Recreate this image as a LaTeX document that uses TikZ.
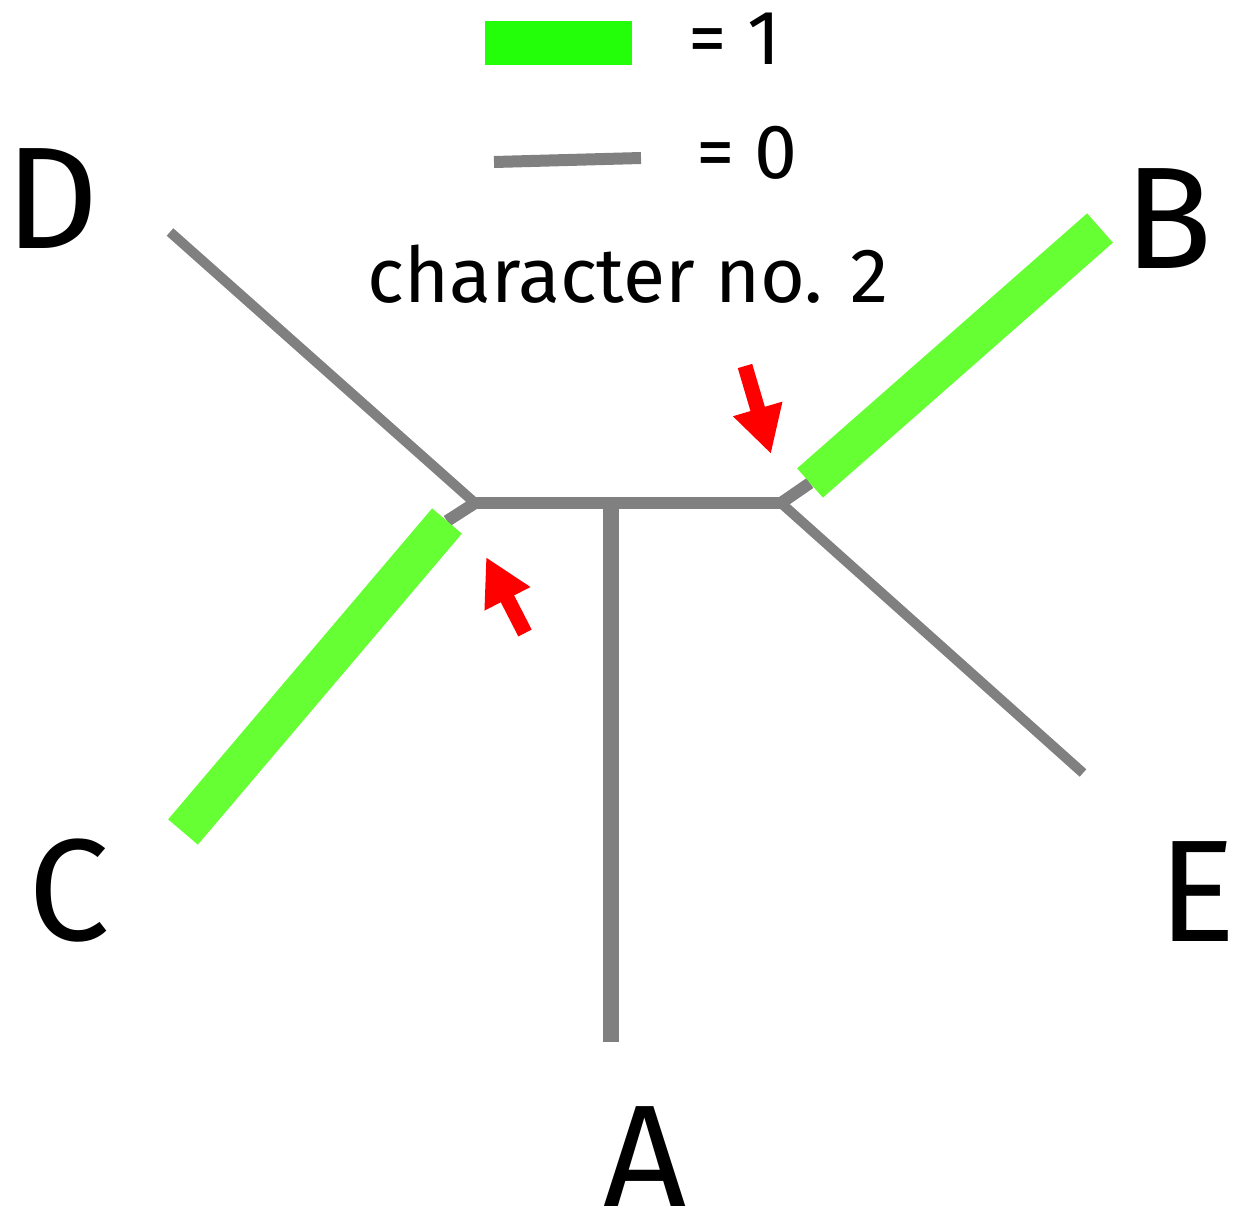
\documentclass[tikz,border=0pt]{standalone}
\usepackage{fontspec}
\setmainfont{Fira Sans}
\usetikzlibrary{arrows.meta}
\definecolor{brgray}{HTML}{808080}
\definecolor{brgreen}{HTML}{66FF33}
\definecolor{leggreen}{HTML}{22FF08}
\definecolor{arred}{HTML}{FF0000}
\tikzset{
  zerobr/.style={draw=brgray, line width=10pt, line cap=butt},
  stubbr/.style={draw=brgray, line width=12pt, line cap=butt},
  onebr/.style={draw=brgreen, line width=39pt, line cap=butt},
  bigletter/.style={inner sep=0pt, font=\fontsize{145}{150}\selectfont},
  midtext/.style={inner sep=0pt, font=\fontsize{77}{90}\selectfont},
  redarrow/.style={draw=arred, line width=15pt, line cap=butt,
    -{Triangle[length=47pt,width=48pt]}},
}
\begin{document}
\begin{tikzpicture}[x=1pt,y=-1pt]
\useasboundingbox (0,0) rectangle (1240,1224);
% junctions and ends
\coordinate (jl) at (475,503);
\coordinate (jr) at (781,503);
\coordinate (dend) at (170,232);
\coordinate (eend) at (1083,773);
\coordinate (aend) at (611,1042);
\coordinate (atop) at (611,497);
\coordinate (cstub) at (447,521);
\coordinate (cend) at (183,832);
\coordinate (bstub) at (810,483);
\coordinate (bend) at (1100,228);
% labels
\node[bigletter] (D) at (52,199) {D};
\node[bigletter] (B) at (1169,219) {B};
\node[bigletter] (C) at (69,891) {C};
\node[bigletter] (E) at (1197,892) {E};
\node[bigletter] (A) at (645,1157) {A};
\node[midtext, anchor=base] (title) at (628,302) {character no. 2};
% legend
\node[draw=none, fill=leggreen, minimum width=147pt, minimum height=44pt, inner sep=0pt] (leg1) at (558.5,43) {};
\coordinate (leg0a) at (494,162);
\coordinate (leg0b) at (641,158);
\draw[draw=brgray, line width=12pt] (leg0a) -- (leg0b);
\node[midtext, anchor=base] (eq1) at (735,64) {= 1};
\node[midtext, anchor=base] (eq0) at (747,178) {= 0};
% tree
\draw[zerobr] (dend) -- (jl);
\draw[zerobr] (jr) -- (eend);
\draw[stubbr] (jl) -- (cstub);
\draw[stubbr] (jr) -- (bstub);
\draw[draw=brgray, line width=12pt] (jl) -- (jr);
\draw[draw=brgray, line width=16pt] (atop) -- (aend);
\draw[onebr] (cstub) -- (cend);
\draw[onebr] (bstub) -- (bend);
% red arrows
\coordinate (r1t) at (745,366);
\coordinate (r1h) at (771,454);
\coordinate (r2t) at (525,633);
\coordinate (r2h) at (486,557);
\draw[redarrow] (r1t) -- (r1h);
\draw[redarrow] (r2t) -- (r2h);
\end{tikzpicture}
\end{document}
